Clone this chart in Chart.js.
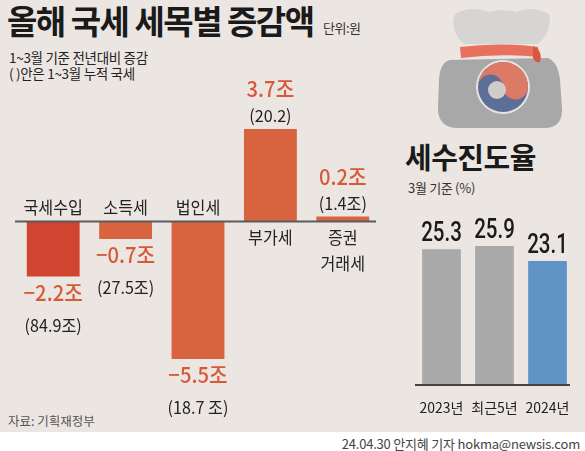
<!DOCTYPE html>
<html><head><meta charset="utf-8">
<script src="https://cdn.jsdelivr.net/npm/chart.js@4"></script>
<style>
html,body{margin:0;padding:0;}
body{width:585px;height:451px;position:relative;overflow:hidden;background:#ece6e2;font-family:"Noto Sans CJK KR","Noto Sans",sans-serif;color:#222;}
.abs{position:absolute;white-space:nowrap;line-height:1;}
#title{left:7px;top:4px;font-size:33px;font-weight:700;letter-spacing:-1.5px;color:#1a1a1a;}
#unit{left:323px;top:20.5px;font-size:13px;color:#333;letter-spacing:-0.5px;}
#sub1{left:9px;top:50.5px;font-size:13.5px;color:#222;letter-spacing:-0.3px;}
#sub2{left:9px;top:66.5px;font-size:13.5px;color:#222;letter-spacing:-0.3px;}
#rtitle{left:405px;top:142px;font-size:29px;font-weight:700;letter-spacing:-0.5px;color:#1a1a1a;}
#rsub{left:408px;top:181px;font-size:13px;color:#333;letter-spacing:-0.3px;}
#source{left:8px;top:414.5px;font-size:12.5px;color:#555;}
#strip{left:0;top:432px;width:585px;height:19px;background:#fff;}
#credit{right:5px;top:437px;font-size:13px;color:#444;letter-spacing:-0.2px;}
canvas{position:absolute;}
</style></head>
<body>
<svg class="abs" style="left:0;top:0" width="585" height="140">
  <path d="M455 14 Q470 5 490 12 Q503 8 516 12 Q532 5 549 14 Q553 30 538 44 L464 44 Q449 30 455 14 Z" fill="#d7d5d4"/>
  <path d="M450 60 Q440 62 439 80 L438 108 Q438 128 458 128 L544 128 Q563 128 562 108 L560 80 Q558 62 548 58 Z" fill="#a9a8a8"/>
  <path d="M460 47 Q500 42 538 47 L539 57 Q500 53 461 58 Z" fill="#e8705e"/>
  <path d="M533 46 Q543 50 540 62 Q535 63 533 58 Z" fill="#d9563f"/>
  <circle cx="503" cy="87" r="27" fill="#e9e4e2"/>
  <circle cx="503" cy="87" r="25" fill="#5d6e98"/>
  <path d="M478 87 A25 25 0 0 1 528 87 A12.5 12.5 0 0 1 503 87 A12.5 12.5 0 0 0 478 87 Z" fill="#dc7a66"/>
  <circle cx="497" cy="90" r="9" fill="#cfcccc"/>
</svg>
<div id="title" class="abs">올해 국세 세목별 증감액</div>
<div id="unit" class="abs">단위:원</div>
<div id="sub1" class="abs">1~3월 기준 전년대비 증감</div>
<div id="sub2" class="abs">( )안은 1~3월 누적 국세</div>
<div id="rtitle" class="abs">세수진도율</div>
<div id="rsub" class="abs">3월 기준 (%)</div>
<div id="source" class="abs">자료: 기획재정부</div>
<div id="strip" class="abs"></div>
<div id="credit" class="abs">24.04.30 안지혜 기자 hokma@newsis.com</div>
<canvas id="left" width="390" height="432" style="left:0;top:0"></canvas>
<canvas id="right" width="195" height="432" style="left:390px;top:0"></canvas>
<script>
const categories = ['국세수입', '소득세', '법인세', '부가세', '증권\n거래세'];
const changeValues = [-2.2, -0.7, -5.5, 3.7, 0.2];
const changeLabels = ['−2.2조', '−0.7조', '−5.5조', '3.7조', '0.2조'];
const cumulativeLabels = ['(84.9조)', '(27.5조)', '(18.7 조)', '(20.2)', '(1.4조)'];
const changeColors = ['#cf4530', '#d8633f', '#d8633f', '#d8633f', '#d8633f'];

const progressCategories = ['2023년', '최근5년', '2024년'];
const progressValues = [25.3, 25.9, 23.1];
const progressColors = ['#a9a9a9', '#a9a9a9', '#5f93c6'];

const KFONT = '"Noto Sans CJK KR", "Noto Sans", sans-serif';

function narrowText(ctx, text, x, y, sx) {
  ctx.save();
  ctx.translate(x, y);
  ctx.scale(sx, 1);
  ctx.fillText(text, 0, 0);
  ctx.restore();
}

const leftLabels = {
  id: 'leftLabels',
  afterDatasetsDraw(chart) {
    const ctx = chart.ctx;
    const meta = chart.getDatasetMeta(0);
    const y0 = chart.scales.y.getPixelForValue(0);
    const area = chart.chartArea;
    ctx.save();
    ctx.strokeStyle = '#5a5a5a';
    ctx.lineWidth = 2;
    ctx.beginPath();
    ctx.moveTo(area.left - 2, y0);
    ctx.lineTo(area.right - 3, y0);
    ctx.stroke();
    ctx.textAlign = 'center';
    ctx.textBaseline = 'alphabetic';
    meta.data.forEach((bar, i) => {
      const v = changeValues[i];
      const x = bar.x;
      const lines = categories[i].split('\n');
      ctx.fillStyle = '#222';
      ctx.font = '400 17px ' + KFONT;
      if (v < 0) {
        narrowText(ctx, lines[0], x, y0 - 8, 0.95);
        ctx.fillStyle = '#d65a3a';
        ctx.font = '500 22px ' + KFONT;
        narrowText(ctx, changeLabels[i], x, bar.y + 24, 0.92);
        ctx.fillStyle = '#222';
        ctx.font = '400 17px ' + KFONT;
        narrowText(ctx, cumulativeLabels[i], x, bar.y + 55, 0.95);
      } else {
        lines.forEach((l, k) => narrowText(ctx, l, x, y0 + 22 + k * 26, 0.95));
        narrowText(ctx, cumulativeLabels[i], x, bar.y - 7, 0.95);
        ctx.fillStyle = '#d65a3a';
        ctx.font = '500 22px ' + KFONT;
        narrowText(ctx, changeLabels[i], x, bar.y - 32, 0.92);
      }
    });
    ctx.restore();
  }
};

const rightLabels = {
  id: 'rightLabels',
  afterDatasetsDraw(chart) {
    const ctx = chart.ctx;
    const meta = chart.getDatasetMeta(0);
    const y0 = chart.scales.y.getPixelForValue(0);
    const area = chart.chartArea;
    ctx.save();
    ctx.strokeStyle = '#444';
    ctx.lineWidth = 2;
    ctx.beginPath();
    ctx.moveTo(area.left, y0);
    ctx.lineTo(area.right - 4, y0);
    ctx.stroke();
    ctx.textAlign = 'center';
    ctx.textBaseline = 'alphabetic';
    meta.data.forEach((bar, i) => {
      ctx.fillStyle = '#1a1a1a';
      ctx.font = '500 27px Roboto, sans-serif';
      narrowText(ctx, progressValues[i].toFixed(1), bar.x, bar.y - 8, 0.76);
      ctx.fillStyle = '#222';
      ctx.font = '400 14px ' + KFONT;
      ctx.fillText(progressCategories[i], bar.x, y0 + 28);
    });
    ctx.restore();
  }
};

new Chart(document.getElementById('left'), {
  type: 'bar',
  data: {
    labels: categories,
    datasets: [{
      data: changeValues,
      backgroundColor: changeColors,
      borderWidth: 0,
      barPercentage: 0.73,
      categoryPercentage: 1
    }]
  },
  options: {
    responsive: false,
    animation: false,
    devicePixelRatio: 1,
    layout: { padding: { left: 17, right: 11, top: 121.5, bottom: 60.5 } },
    plugins: { legend: { display: false }, tooltip: { enabled: false } },
    scales: {
      x: { display: false },
      y: { display: false, min: -6, max: 4 }
    }
  },
  plugins: [leftLabels]
});

new Chart(document.getElementById('right'), {
  type: 'bar',
  data: {
    labels: progressCategories,
    datasets: [{
      data: progressValues,
      backgroundColor: progressColors,
      borderWidth: 0,
      barPercentage: 0.73,
      categoryPercentage: 1
    }]
  },
  options: {
    responsive: false,
    animation: false,
    devicePixelRatio: 1,
    layout: { padding: { left: 25, right: 11, top: 224, bottom: 47 } },
    plugins: { legend: { display: false }, tooltip: { enabled: false } },
    scales: {
      x: { display: false },
      y: { display: false, min: 0, max: 30 }
    }
  },
  plugins: [rightLabels]
});
</script>
</body></html>
